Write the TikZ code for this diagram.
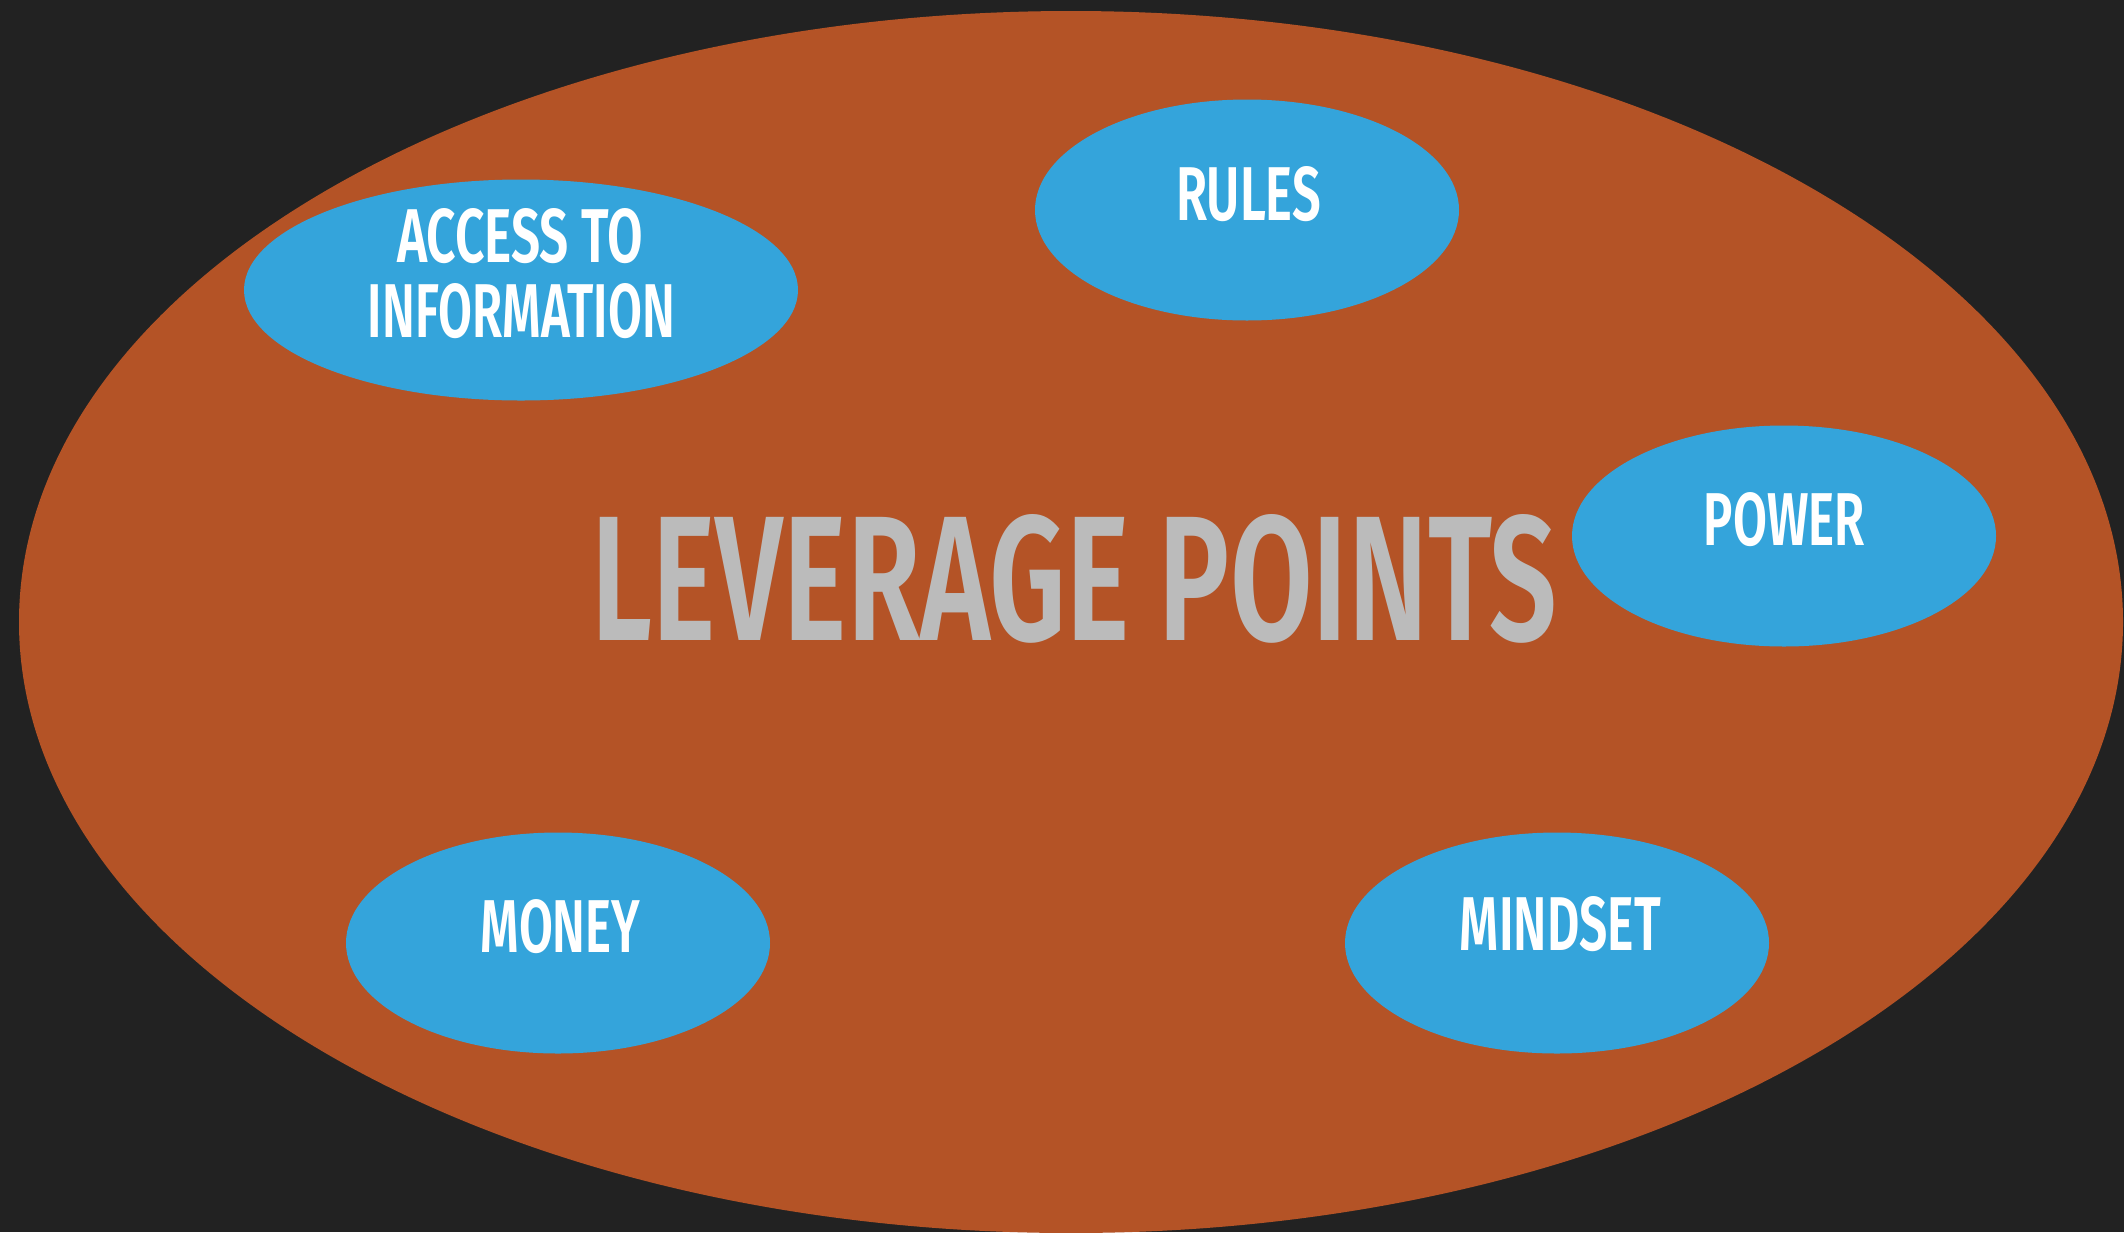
\documentclass[tikz,border=0pt]{standalone}
\usepackage{fontspec}
\usepackage{graphicx}
\setmainfont{Fira Sans}
\newfontfamily\medfont{Fira Sans SemiBold}
\usetikzlibrary{shapes.geometric}
\definecolor{bgdark}{HTML}{222222}
\definecolor{fieldorange}{HTML}{B45326}
\definecolor{blobblue}{HTML}{34A4DB}
\definecolor{titlegray}{HTML}{BBBBBB}
\tikzset{
  field/.style={ellipse, fill=fieldorange, draw=none, inner sep=0pt, minimum width=2104pt, minimum height=1222pt},
  blob/.style={ellipse, fill=blobblue, draw=none, inner sep=0pt, minimum width=424pt, minimum height=221pt},
  lbl/.style={inner sep=0pt, text=white, font=\medfont},
  title/.style={inner sep=0pt, text=titlegray, font=\medfont}
}
\begin{document}
\begin{tikzpicture}[x=1pt,y=-1pt]
\fill[bgdark] (0,0) rectangle (2124,1232);
\useasboundingbox (0,0) rectangle (2124,1232);
\node[field] (lev) at (1071,622) {};
\node[blob, minimum width=554pt] (access) at (521,290) {};
\node[blob] (rules) at (1247,210) {};
\node[blob] (power) at (1784,536) {};
\node[blob] (money) at (558,943) {};
\node[blob] (mindset) at (1557,943) {};
\node[title] (levT) at (1074.5,579) {\resizebox{965pt}{126pt}{LEVERAGE POINTS}};
\node[lbl] (accessT1) at (520,236) {\resizebox{246pt}{54pt}{ACCESS TO}};
\node[lbl] (accessT2) at (521.5,311) {\resizebox{307pt}{54pt}{INFORMATION}};
\node[lbl] (rulesT) at (1248.5,194) {\resizebox{145pt}{54pt}{RULES}};
\node[lbl] (powerT) at (1784.5,519.5) {\resizebox{161pt}{53pt}{POWER}};
\node[lbl] (moneyT) at (560.5,927) {\resizebox{159pt}{53pt}{MONEY}};
\node[lbl] (mindsetT) at (1560.5,924) {\resizebox{201pt}{54pt}{MINDSET}};
\end{tikzpicture}
\end{document}
